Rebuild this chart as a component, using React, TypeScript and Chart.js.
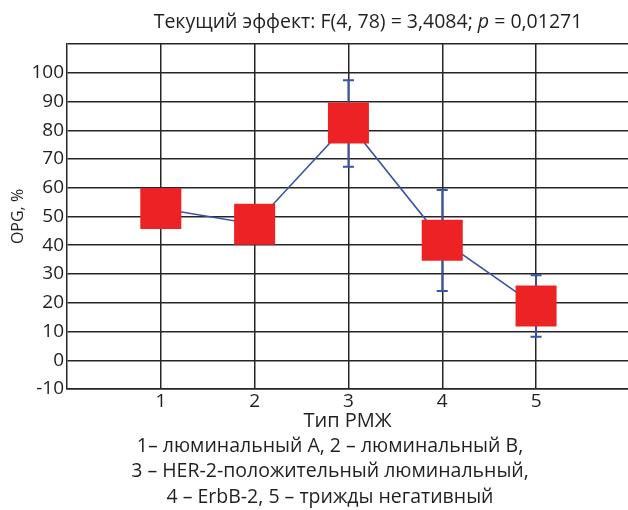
import React, { useEffect, useRef } from "react";
import { Chart, registerables } from "chart.js";

Chart.register(...registerables);

const categories = [1, 2, 3, 4, 5];
const means = [52.8, 47.3, 82.5, 41.7, 18.9];
const upper = [58.5, 52.5, 97.4, 59.2, 29.6];
const lower = [47.0, 42.0, 67.3, 24.1, 8.2];
const xTickValues = [1, 2, 3, 4, 5];
const titleMain = "Текущий эффект: F(4, 78) = 3,4084; ";
const titleP = "p";
const titleTail = " = 0,01271";
const yAxisTitle = "OPG, %";
const xAxisTitle = "Тип РМЖ";
const captionLines = [
  "1– люминальный A, 2 – люминальный B,",
  "3 – HER-2-положительный люминальный,",
  "4 – ErbB-2, 5 – трижды негативный",
];

const FONT = "'Open Sans', 'Noto Sans', sans-serif";
const BLUE = "#3a53a4";
const RED = "#ed2224";
const GRID = "#262626";
const TEXT = "#231f20";

const errorBarPlugin = {
  id: "errorBars",
  beforeDatasetsDraw(chart: any) {
    const { ctx, scales } = chart;
    const x = scales.x;
    const y = scales.y;
    ctx.save();
    ctx.strokeStyle = BLUE;
    ctx.lineWidth = 2;
    categories.forEach((c, i) => {
      const px = x.getPixelForValue(c);
      const top = y.getPixelForValue(upper[i]);
      const bot = y.getPixelForValue(lower[i]);
      ctx.beginPath();
      ctx.moveTo(px, top);
      ctx.lineTo(px, bot);
      ctx.moveTo(px - 5.5, top);
      ctx.lineTo(px + 5.5, top);
      ctx.moveTo(px - 5.5, bot);
      ctx.lineTo(px + 5.5, bot);
      ctx.stroke();
    });
    ctx.restore();
  },
};

const textPlugin = {
  id: "texts",
  afterDraw(chart: any) {
    const { ctx } = chart;
    ctx.save();
    ctx.fillStyle = TEXT;
    ctx.textBaseline = "middle";
    const normal = `19.5px ${FONT}`;
    const italic = `italic 19.5px ${FONT}`;
    ctx.font = normal;
    const w1 = ctx.measureText(titleMain).width;
    const w3 = ctx.measureText(titleTail).width;
    ctx.font = italic;
    const w2 = ctx.measureText(titleP).width;
    const total = w1 + w2 + w3;
    const sx = 368 - total / 2;
    ctx.textAlign = "left";
    ctx.font = normal;
    ctx.fillText(titleMain, sx, 22);
    ctx.font = italic;
    ctx.fillText(titleP, sx + w1, 22);
    ctx.font = normal;
    ctx.fillText(titleTail, sx + w1 + w2, 22);
    ctx.textAlign = "center";
    ctx.font = `19.5px ${FONT}`;
    captionLines.forEach((line, i) => {
      ctx.fillText(line, 330, 446 + i * 25.5);
    });
    ctx.restore();
  },
};

export default function App() {
  const ref = useRef<HTMLCanvasElement>(null);
  useEffect(() => {
    if (!ref.current) return;
    const chart = new Chart(ref.current, {
      type: "line",
      data: {
        datasets: [
          {
            data: categories.map((c, i) => ({ x: c, y: means[i] })),
            borderColor: BLUE,
            borderWidth: 1.6,
            pointStyle: "rect",
            pointRadius: 29,
            pointBackgroundColor: RED,
            pointBorderColor: RED,
            pointBorderWidth: 0,
            tension: 0,
          },
        ],
      },
      plugins: [errorBarPlugin, textPlugin],
      options: {
        animation: false,
        responsive: false,
        events: [],
        layout: { autoPadding: false, padding: { top: 44, bottom: 71, left: 0, right: 0 } },
        plugins: { legend: { display: false }, tooltip: { enabled: false }, title: { display: false } },
        scales: {
          x: {
            type: "linear",
            min: 0,
            max: 5.98,
            afterBuildTicks: (scale: any) => {
              scale.ticks = xTickValues.map((v) => ({ value: v }));
            },
            afterFit: (scale: any) => {
              scale.height = 50;
            },
            grid: { color: GRID, lineWidth: 1.5, drawTicks: false },
            border: { display: true, color: GRID, width: 1.5 },
            ticks: {
              color: TEXT,
              font: { family: FONT, size: 19 },
              padding: 1,
              autoSkip: false,
              maxRotation: 0,
            },
            title: {
              display: true,
              text: xAxisTitle,
              color: TEXT,
              font: { family: FONT, size: 20 },
              padding: { top: 0, bottom: 6 },
            },
          },
          y: {
            min: -10,
            max: 110,
            afterFit: (scale: any) => {
              scale.width = 67;
            },
            grid: { color: GRID, lineWidth: 1.5, drawTicks: false },
            border: { display: true, color: GRID, width: 1.5 },
            ticks: {
              stepSize: 10,
              color: TEXT,
              font: { family: FONT, size: 19 },
              padding: 3,
              callback: (v: any) => (v === 110 ? "" : String(v)),
            },
            title: {
              display: true,
              text: yAxisTitle,
              color: TEXT,
              font: { family: FONT, size: 16 },
              padding: { top: 9, bottom: 0 },
            },
          },
        },
      },
    });
    return () => chart.destroy();
  }, []);
  return (
    <div style={{ position: "fixed", left: 0, top: 0, width: 628, height: 510, background: "#fff" }}>
      <canvas ref={ref} width={628} height={510} style={{ display: "block" }} />
    </div>
  );
}
